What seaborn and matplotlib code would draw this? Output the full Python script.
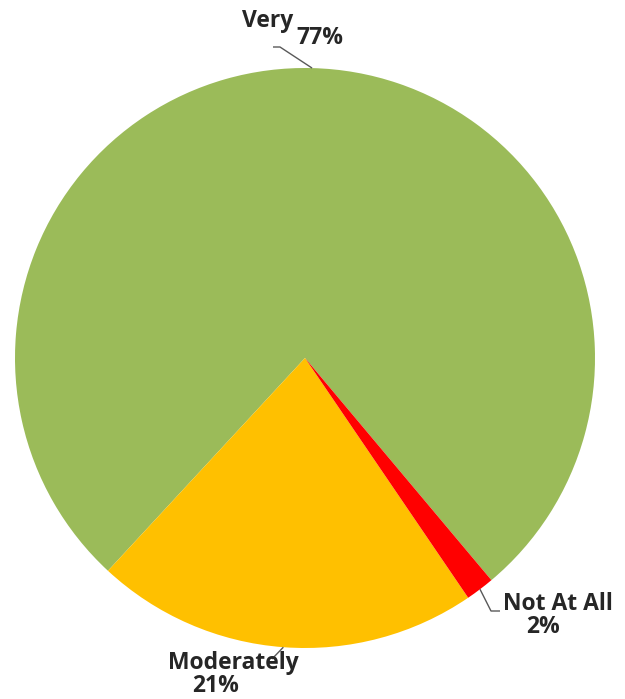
import numpy as np
import matplotlib
matplotlib.use("Agg")
import matplotlib.pyplot as plt
import seaborn as sns

# ---- data ----
categories = ["Very", "Moderately", "Not At All"]
values = [77.0, 21.4, 1.6]
pct_labels = ["77%", "21%", "2%"]
colors = ["#9BBB59", "#FFC000", "#FF0000"]

sns.set_theme(style="white")
plt.rcParams['font.family'] = ['Open Sans', 'DejaVu Sans']

W, H = 625, 699
fig = plt.figure(figsize=(W / 100, H / 100), dpi=100)
ax = fig.add_axes([0, 0, 1, 1])

R = 290.0
cx, cy = 305.0, 358.0


def P(px, py):
    return ((px - cx) / R, (cy - py) / R)


wedges, _ = ax.pie(values, colors=colors, startangle=-50, counterclock=True,
                   radius=1, center=(0, 0), wedgeprops=dict(linewidth=0))
ax.set_xlim(-cx / R, (W - cx) / R)
ax.set_ylim(-(H - cy) / R, cy / R)
ax.set_aspect('auto')
ax.axis('off')


def edge_point(w):
    th = np.deg2rad((w.theta1 + w.theta2) / 2)
    return np.cos(th), np.sin(th)


txt_kw = dict(fontsize=16.5, fontweight='bold', color='#262626',
              ha='center', va='center')
line_kw = dict(color='#595959', lw=1.0, solid_capstyle='butt')

# label layout (pixel positions of text and leader elbows)
name_pos = [(268, 21), (233, 663), (558, 604)]
pct_pos = [(320, 38), (216, 686), (543, 627)]
elbows = [[(280, 47), (273, 47)],
          [(272, 659)],
          [(491, 611), (500, 611)]]

for w, name, pct, npos, ppos, elb in zip(wedges, categories, pct_labels,
                                         name_pos, pct_pos, elbows):
    x0, y0 = edge_point(w)
    pts = [(x0, y0)] + [P(*e) for e in elb]
    xs, ys = zip(*pts)
    ax.plot(xs, ys, **line_kw)
    ax.text(*P(*npos), name, **txt_kw)
    ax.text(*P(*ppos), pct, **txt_kw)

fig.savefig("out.png", dpi=100)
